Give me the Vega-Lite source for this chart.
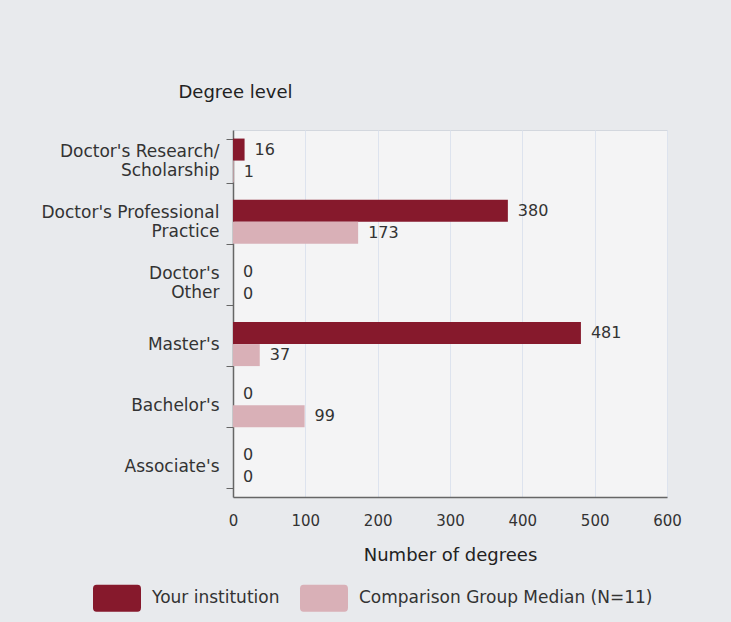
{
  "$schema": "https://vega.github.io/schema/vega-lite/v6.json",
  "autosize": {"type": "none"},
  "padding": {"left": 233, "top": 130, "right": 64, "bottom": 125},
  "width": 434,
  "height": 367,
  "background": "#e8eaed",
  "config": {
    "font": "DejaVu Sans",
    "view": {"fill": "#f4f4f5", "stroke": "#d3d7de"}
  },
  "data": {
    "values": [
      {"level": "Doctor's Research/|Scholarship", "series": "Your institution", "value": 16},
      {"level": "Doctor's Research/|Scholarship", "series": "Comparison Group Median (N=11)", "value": 1},
      {"level": "Doctor's Professional|Practice", "series": "Your institution", "value": 380},
      {"level": "Doctor's Professional|Practice", "series": "Comparison Group Median (N=11)", "value": 173},
      {"level": "Doctor's|Other", "series": "Your institution", "value": 0},
      {"level": "Doctor's|Other", "series": "Comparison Group Median (N=11)", "value": 0},
      {"level": "Master's", "series": "Your institution", "value": 481},
      {"level": "Master's", "series": "Comparison Group Median (N=11)", "value": 37},
      {"level": "Bachelor's", "series": "Your institution", "value": 0},
      {"level": "Bachelor's", "series": "Comparison Group Median (N=11)", "value": 99},
      {"level": "Associate's", "series": "Your institution", "value": 0},
      {"level": "Associate's", "series": "Comparison Group Median (N=11)", "value": 0}
    ]
  },
  "encoding": {
    "y": {
      "field": "level",
      "type": "nominal",
      "sort": null,
      "scale": {"paddingInner": 0.28, "paddingOuter": 0.14},
      "axis": {
        "title": "Degree level",
        "titleAngle": 0,
        "titleX": 2,
        "titleY": -38,
        "titleAlign": "center",
        "titleBaseline": "middle",
        "titleFontSize": 18,
        "titleFontWeight": "normal",
        "titleColor": "#222222",
        "labelExpr": "indexof(datum.label, '|') >= 0 ? [split(datum.label, '|')[0], '\u2800', split(datum.label, '|')[1]] : ['\u2800', datum.label]",
        "labelFontSize": 17,
        "labelColor": "#333333",
        "labelLineHeight": 9.5,
        "labelOffset": -9.5,
        "labelPadding": 7,
        "tickBand": "extent",
        "tickSize": 7,
        "tickColor": "#666666",
        "domainColor": "#666666",
        "domainWidth": 1.5,
        "grid": false
      }
    },
    "yOffset": {
      "field": "series",
      "type": "nominal",
      "sort": ["Your institution", "Comparison Group Median (N=11)"]
    },
    "x": {
      "field": "value",
      "type": "quantitative",
      "scale": {"domain": [0, 600]},
      "axis": {
        "title": "Number of degrees",
        "values": [0, 100, 200, 300, 400, 500, 600],
        "titleFontSize": 18,
        "titleFontWeight": "normal",
        "titleColor": "#222222",
        "titlePadding": 18,
        "labelFontSize": 15,
        "labelFlush": false,
        "labelColor": "#333333",
        "labelPadding": 16,
        "ticks": false,
        "domainColor": "#666666",
        "domainWidth": 1.5,
        "gridColor": "#dde3ee",
        "gridWidth": 1
      }
    }
  },
  "layer": [
    {
      "mark": {"type": "bar"},
      "encoding": {
        "color": {
          "field": "series",
          "type": "nominal",
          "sort": ["Your institution", "Comparison Group Median (N=11)"],
          "scale": {
            "domain": ["Your institution", "Comparison Group Median (N=11)"],
            "range": ["#86192c", "#d9b0b7"]
          },
          "legend": {
            "title": null,
            "orient": "none",
            "direction": "horizontal",
            "legendX": -140,
            "legendY": 444,
            "symbolType": "M-0.85,-0.5625 L0.85,-0.5625 Q1,-0.5625 1,-0.4 L1,0.4 Q1,0.5625 0.85,0.5625 L-0.85,0.5625 Q-1,0.5625 -1,0.4 L-1,-0.4 Q-1,-0.5625 -0.85,-0.5625 Z",
            "symbolSize": 2304,
            "symbolStrokeWidth": 0,
            "symbolOpacity": 1,
            "labelFontSize": 17,
            "labelColor": "#333333",
            "labelOffset": 11,
            "columnPadding": 20,
            "labelLimit": 400
          }
        }
      }
    },
    {
      "mark": {"type": "text", "align": "left", "baseline": "middle", "dx": 10, "fontSize": 16, "color": "#333333"},
      "encoding": {
        "text": {"field": "value", "type": "quantitative"}
      }
    }
  ]
}
